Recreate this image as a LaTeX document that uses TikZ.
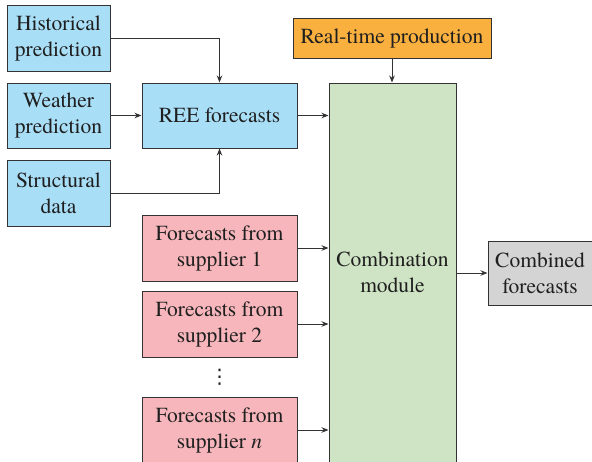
\documentclass[tikz,border=0pt]{standalone}
\usepackage{fontspec}
\setmainfont{TeX Gyre Termes}
\newfontfamily\dv{DejaVu Sans}
\usetikzlibrary{arrows.meta}
\definecolor{cblue}{HTML}{A9DEF7}
\definecolor{corange}{HTML}{F9B03F}
\definecolor{cgreen}{HTML}{CFE4C4}
\definecolor{cpink}{HTML}{F6B6BB}
\definecolor{cgray}{HTML}{D4D4D4}
\definecolor{cline}{HTML}{333333}
\tikzset{
  box/.style={draw=cline, line width=1pt, inner sep=0pt, align=center, text=black!88,
    font=\fontsize{21.5}{26}\selectfont},
  arr/.style={draw=cline, line width=0.9pt, -{Stealth[length=7pt,width=5.5pt]}}
}
\begin{document}
\begin{tikzpicture}[x=1pt,y=-1pt]
\clip (0,0) rectangle (592,461);
\fill[white] (0,0) rectangle (592,461);
% left blue boxes
\node[box, fill=cblue, minimum width=103pt, minimum height=66pt] (hist) at (58.5,38) {Historical\\prediction};
\node[box, fill=cblue, minimum width=103pt, minimum height=65pt] (weat) at (58.5,115.5) {Weather\\prediction};
\node[box, fill=cblue, minimum width=103pt, minimum height=66pt] (stru) at (58.5,193) {Structural\\data};
\node[box, fill=cblue, minimum width=155pt, minimum height=65pt] (ree) at (219.5,115.5) {REE forecasts};
% real-time
\node[box, fill=corange, minimum width=198pt, minimum height=40pt] (rt) at (392,38) {Real-time production};
% combination
\node[box, fill=cgreen, minimum width=127pt, minimum height=397pt] (comb) at (392.5,281.5) {};
\node[box, draw=none, anchor=center] (combt) at (392.5,272) {Combination\\module};
% suppliers
\node[box, fill=cpink, minimum width=155pt, minimum height=66pt] (s1) at (219.5,248) {Forecasts from\\supplier 1};
\node[box, fill=cpink, minimum width=155pt, minimum height=66pt] (s2) at (219.5,324) {Forecasts from\\supplier 2};
\node[box, fill=cpink, minimum width=155pt, minimum height=66pt] (sn) at (219.5,430) {Forecasts from\\supplier \textit{n}};
\node[box, draw=none, font=\dv\fontsize{20}{24}\selectfont] (dots) at (219.5,377) {⋮};
% combined
\node[box, fill=cgray, minimum width=104pt, minimum height=64pt] (out) at (540,273) {Combined\\forecasts};
% arrows
\draw[arr] (hist.east) -| (ree.north);
\draw[arr] (stru.east) -| (ree.north |- ree.south);
\draw[arr] (weat.east) -- (ree.west);
\draw[arr] (ree.east) -- (comb.west |- ree.east);
\draw[arr] (rt.south) -- (rt.south |- comb.north);
\draw[arr] (s1.east) -- (comb.west |- s1.east);
\draw[arr] (s2.east) -- (comb.west |- s2.east);
\draw[arr] (sn.east) -- (comb.west |- sn.east);
\draw[arr] (comb.east |- out.west) -- (out.west);
\end{tikzpicture}
\end{document}
